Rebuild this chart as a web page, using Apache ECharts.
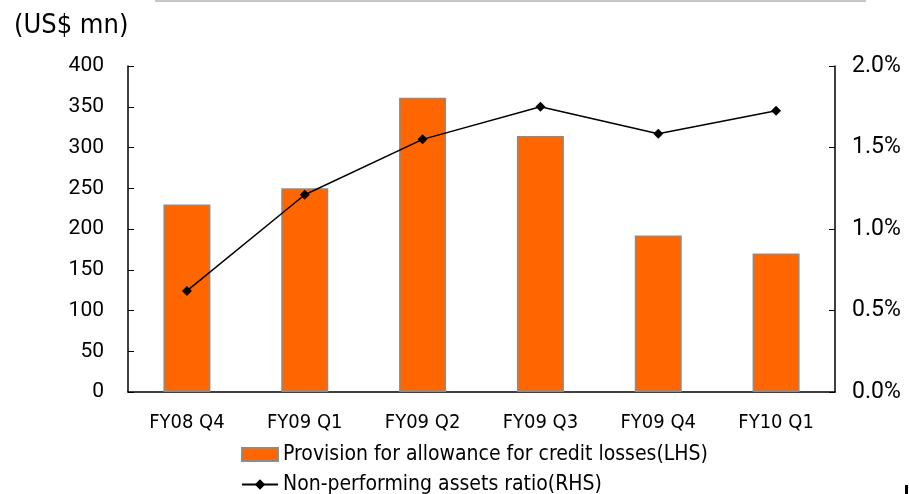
<!DOCTYPE html>
<html>
<head>
<meta charset="utf-8">
<script src="https://cdn.jsdelivr.net/npm/echarts@6/dist/echarts.min.js"></script>
<style>
  html, body { margin: 0; padding: 0; background: #fff; }
  #chart { width: 909px; height: 494px; }
</style>
</head>
<body>
<div id="chart"></div>
<script>
// 数据
const quarters = ['FY08 Q4', 'FY09 Q1', 'FY09 Q2', 'FY09 Q3', 'FY09 Q4', 'FY10 Q1']
const provision = [230, 250, 361, 314, 192, 170]
const npaRatio = [0.62, 1.21, 1.55, 1.75, 1.585, 1.725]

const barName = 'Provision for allowance for credit losses(LHS)'
const lineName = 'Non-performing assets ratio(RHS)'

const labelFont = '"DejaVu Sans Condensed", "Liberation Sans", sans-serif'
const tickFont = 'Roboto, "DejaVu Sans", sans-serif'

const legendText = { fontFamily: labelFont, fontSize: 21, color: '#000' }

const chart = echarts.init(document.getElementById('chart'))
const option = {
  animation: false,
  backgroundColor: '#fff',
  graphic: [
    {
      type: 'line',
      shape: { x1: 155, y1: 1, x2: 866, y2: 1 },
      style: { stroke: '#c8c8c8', lineWidth: 2 }
    },
    {
      type: 'rect',
      shape: { x: 905, y: 485, width: 3, height: 9 },
      style: { fill: '#000' }
    },
    {
      type: 'text',
      left: 14,
      top: 12,
      style: { text: '(US$ mn)', font: '27px ' + labelFont, fill: '#000' }
    }
  ],
  legend: [
    {
      left: 241,
      top: 444,
      padding: 0,
      itemGap: 0,
      itemWidth: 36,
      itemHeight: 13,
      textStyle: legendText,
      data: [{ name: barName, icon: 'rect' }]
    },
    {
      left: 241,
      top: 474,
      padding: 0,
      itemGap: 0,
      itemWidth: 36,
      itemHeight: 13,
      textStyle: legendText,
      data: [lineName]
    }
  ],
  grid: {
    left: 128,
    right: 74,
    top: 66,
    bottom: 102
  },
  xAxis: {
    type: 'category',
    data: quarters,
    axisLine: { lineStyle: { color: '#000', width: 1.5 } },
    axisTick: { inside: true, length: 6, lineStyle: { color: '#000' } },
    axisLabel: { margin: 21, fontFamily: labelFont, fontSize: 20, color: '#000' }
  },
  yAxis: [
    {
      type: 'value',
      min: 0,
      max: 400,
      interval: 50,
      splitLine: { show: false },
      axisLine: { show: true, lineStyle: { color: '#000', width: 1.5 } },
      axisTick: { show: true, inside: true, length: 6, lineStyle: { color: '#000' } },
      axisLabel: { margin: 24, fontFamily: tickFont, fontSize: 21, color: '#000' }
    },
    {
      type: 'value',
      min: 0,
      max: 2,
      interval: 0.5,
      splitLine: { show: false },
      axisLine: { show: true, lineStyle: { color: '#000', width: 1.5 } },
      axisTick: { show: true, inside: true, length: 6, lineStyle: { color: '#000' } },
      axisLabel: {
        margin: 17,
        fontFamily: tickFont,
        fontSize: 23,
        color: '#000',
        formatter: v => v.toFixed(1) + '%'
      }
    }
  ],
  series: [
    {
      name: barName,
      type: 'bar',
      data: provision,
      barWidth: 47,
      itemStyle: { color: '#FF6600', borderColor: '#8c8c8c', borderWidth: 1.5 }
    },
    {
      name: lineName,
      type: 'line',
      yAxisIndex: 1,
      data: npaRatio,
      symbol: 'diamond',
      symbolSize: 10,
      lineStyle: { color: '#000', width: 1.5 },
      itemStyle: { color: '#000' }
    }
  ]
}
chart.setOption(option)
</script>
</body>
</html>
